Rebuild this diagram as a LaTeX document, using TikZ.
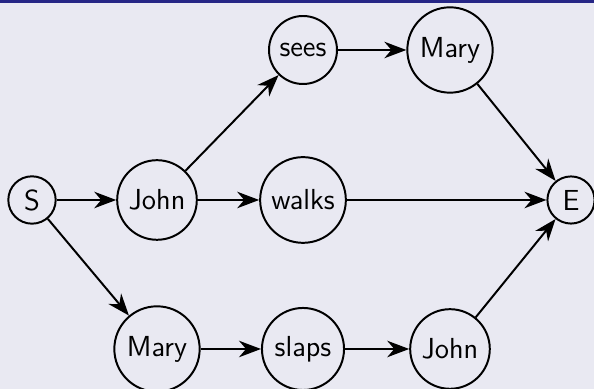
\documentclass[tikz,border=0pt]{standalone}
\usetikzlibrary{arrows.meta, positioning}

\definecolor{framebg}{RGB}{233,233,242}
\definecolor{titlebar}{RGB}{38,38,134}

\begin{document}
\begin{tikzpicture}[
  x=0.016cm, y=-0.016cm,
  word/.style={circle, draw, line width=0.9pt, inner sep=3.4pt,
    font=\fontsize{13.2}{15}\selectfont\sffamily},
  link/.style={line width=0.9pt, -{Stealth[length=10pt, width=7.5pt, inset=3.2pt]}},
  ]
  % frame background and title bar
  \fill[framebg] (0, 0) rectangle (594, 389);
  \fill[titlebar] (0, 0) rectangle (594, 3);
  \useasboundingbox (0, 0) rectangle (594, 389);

  % start and end
  \node[word] (s) at (32, 200) {S};
  \node[word] (e) at (571, 200) {E};

  % top sentence
  \node[word] (john) at (157, 200) {John};
  \node[word] (sees) at (303, 50) {sees};
  \node[word] (marytop) at (450, 50) {Mary};
  \node[word] (walks) at (303, 200) {walks};

  % bottom sentence
  \node[word] (mary) at (157, 349) {Mary};
  \node[word] (slaps) at (303, 349) {slaps};
  \node[word] (johnbot) at (450, 349) {John};

  % edges
  \draw[link] (s) -- (john);
  \draw[link] (s) -- (mary);
  \draw[link] (john) -- (sees);
  \draw[link] (john) -- (walks);
  \draw[link] (sees) -- (marytop);
  \draw[link] (marytop) -- (e);
  \draw[link] (walks) -- (e);
  \draw[link] (mary) -- (slaps);
  \draw[link] (slaps) -- (johnbot);
  \draw[link] (johnbot) -- (e);
\end{tikzpicture}
\end{document}
